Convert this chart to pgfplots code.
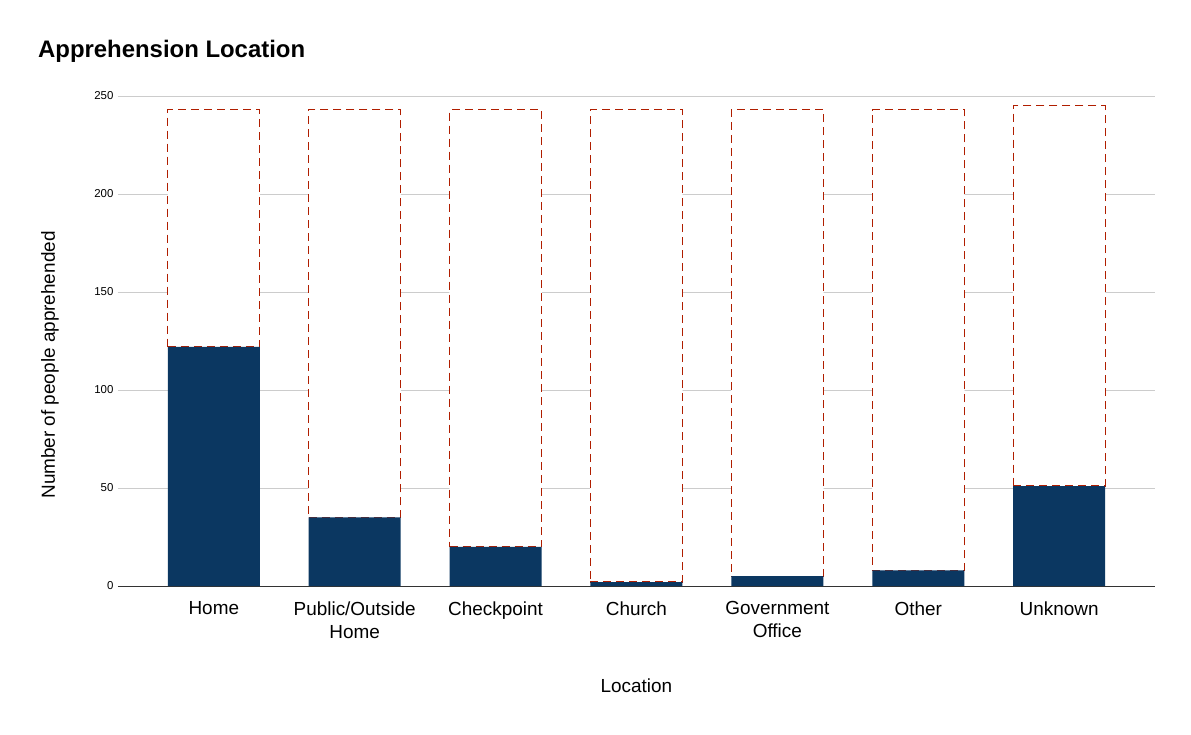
\documentclass[border=0pt]{standalone}
\usepackage{pgfplots}
\pgfplotsset{compat=1.18}
\usepackage{pgfplotstable}
\usepackage{fontspec}
\setmainfont{Liberation Sans}
\definecolor{barblue}{HTML}{0B3761}
\definecolor{dashred}{HTML}{B01E00}
\definecolor{gridgray}{HTML}{CCCCCC}
\definecolor{axisgray}{HTML}{333333}

\pgfplotstableread{
x val rest
0 122 121
1 35 208
2 20 223
3 2 241
4 5 238
5 8 235
6 51 194
}\datatable

\begin{document}
\begin{tikzpicture}
\begin{axis}[
  scale only axis, width=1037bp, height=490bp,
  xmin=-0.68, xmax=6.68, ymin=0, ymax=250,
  enlargelimits=false,
  ybar stacked, bar width=92bp,
  axis x line*=bottom, axis y line*=left,
  y axis line style={draw=none},
  x axis line style={draw=axisgray, line width=1bp},
  major tick length=0pt,
  ytick={0,50,...,250},
  ymajorgrids, grid style={draw=gridgray, line width=0.8bp},
  xtick={0,...,6},
  xticklabels={Home,{Public/Outside\\Home},Checkpoint,Church,{Government\\Office},Other,Unknown},
  xticklabel style={align=center, font=\fontsize{19}{23}\selectfont, yshift=-12bp},
  yticklabel style={font=\fontsize{11.5}{13}\selectfont, xshift=-1bp},
  /pgf/number format/assume math mode=true,
  xlabel={Location},
  ylabel={Number of people apprehended},
  xlabel style={at={(rel axis cs:0.5,-0.204)}, anchor=center, font=\fontsize{19}{23}\selectfont},
  ylabel style={at={(rel axis cs:-0.0656,0.451)}, anchor=center, font=\fontsize{19}{23}\selectfont},
  title={Apprehension Location},
  title style={at={(rel axis cs:-0.0772,1.0654)}, anchor=base west, inner sep=0pt, font=\fontsize{24}{28}\selectfont\bfseries},
  clip=false,
]
\addplot[fill=barblue, draw=none] table[x=x, y=val] {\datatable};
\addplot[fill=white, draw=none, postaction={draw=dashred, line width=1.3bp, dash pattern=on 8bp off 5bp}] table[x=x, y=rest] {\datatable};
\coordinate (sw) at (rel axis cs:0,0);
\end{axis}
\path[use as bounding box] ([shift={(-118bp,-149bp)}]sw) rectangle ([shift={(1073bp,586bp)}]sw);
\end{tikzpicture}
\end{document}
